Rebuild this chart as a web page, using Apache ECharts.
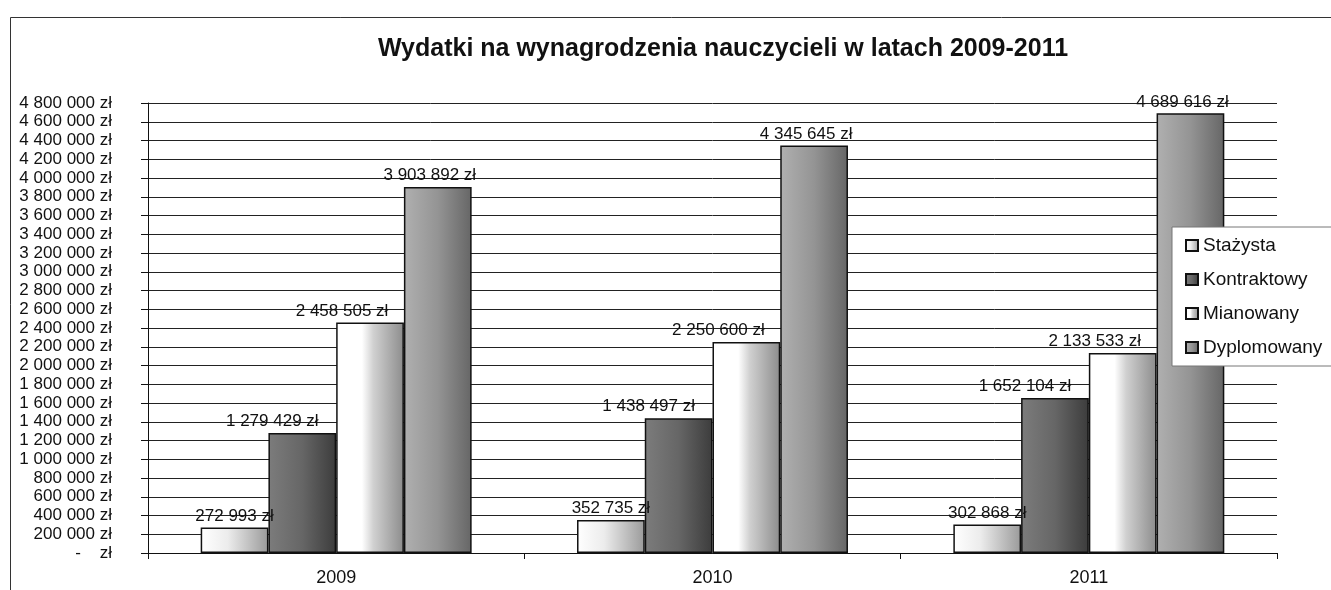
<!DOCTYPE html>
<html>
<head>
<meta charset="utf-8">
<script src="https://cdn.jsdelivr.net/npm/echarts@6/dist/echarts.min.js"></script>
<style>
  html, body { margin: 0; padding: 0; background: #fff; }
  #chart { width: 1331px; height: 590px; }
</style>
</head>
<body>
<div id="chart"></div>
<script>
// dane
const years = ['2009', '2010', '2011'];
const stazysta = [272993, 352735, 302868];
const kontraktowy = [1279429, 1438497, 1652104];
const mianowany = [2458505, 2250600, 2133533];
const dyplomowany = [3903892, 4345645, 4689616];

const font = "'Liberation Sans', Arial, sans-serif";

function zl(v) {
    if (v === 0) return '-    zł';
    return String(v).replace(/\B(?=(\d{3})+(?!\d))/g, ' ') + ' zł';
}

function grad(stops) {
    return new echarts.graphic.LinearGradient(0, 0, 1, 0,
        stops.map(s => ({ offset: s[0], color: s[1] })));
}

// etykiety w oryginale są przesunięte nieco w lewo
function serie(name, data, color, dx) {
    return {
        name: name,
        type: 'bar',
        data: data,
        barGap: '0%',
        barCategoryGap: '28%',
        itemStyle: { color: color, borderColor: '#111', borderWidth: 1.5 },
        label: {
            show: true,
            position: 'top',
            distance: 3,
            offset: [dx, 0],
            formatter: p => zl(p.value),
            color: '#111',
            fontFamily: font,
            fontSize: 17
        },
        emphasis: { disabled: true }
    };
}

const myChart = echarts.init(document.getElementById('chart'), null, { renderer: 'canvas' });

const option = {
    animation: false,
    backgroundColor: '#fff',
    title: {
        text: 'Wydatki na wynagrodzenia nauczycieli w latach 2009-2011',
        left: 718,
        textAlign: 'center',
        top: 32,
        textStyle: { fontFamily: font, fontSize: 25, fontWeight: 'bold', color: '#111' }
    },
    grid: { left: 148, right: 54, top: 103, bottom: 37, containLabel: false },
    legend: {
        orient: 'vertical',
        left: 1172,
        top: 227,
        padding: [9, 40, 9, 13],
        itemGap: 15,
        itemWidth: 12,
        itemHeight: 11,
        icon: 'rect',
        backgroundColor: '#fff',
        borderColor: '#777',
        borderWidth: 1,
        borderRadius: 0,
        textStyle: { fontFamily: font, fontSize: 19, color: '#111' },
        data: ['Stażysta', 'Kontraktowy', 'Mianowany', 'Dyplomowany']
    },
    xAxis: {
        type: 'category',
        data: years,
        axisLine: { lineStyle: { color: '#111' } },
        axisTick: { show: true, length: 6, lineStyle: { color: '#111' } },
        axisLabel: { fontFamily: font, fontSize: 18, color: '#111', margin: 16 }
    },
    yAxis: {
        type: 'value',
        min: 0,
        max: 4800000,
        interval: 200000,
        axisLine: { show: true, lineStyle: { color: '#111' } },
        axisTick: { show: true, length: 7, lineStyle: { color: '#111' } },
        axisLabel: {
            formatter: zl,
            fontFamily: font,
            fontSize: 17,
            color: '#111',
            margin: 36
        },
        splitLine: { lineStyle: { color: '#222', width: 1 } }
    },
    series: [
        serie('Stażysta', stazysta, grad([[0, '#ffffff'], [0.4, '#ececec'], [1, '#9a9a9a']]), 0),
        serie('Kontraktowy', kontraktowy, grad([[0, '#7c7c7c'], [0.5, '#666666'], [1, '#3c3c3c']]), -30),
        serie('Mianowany', mianowany, grad([[0, '#ffffff'], [0.38, '#ffffff'], [0.55, '#d0d0d0'], [1, '#8c8c8c']]), -28),
        serie('Dyplomowany', dyplomowany, grad([[0, '#b0b0b0'], [0.5, '#949494'], [1, '#666666']]), -8)
    ],
    graphic: [
        {
            type: 'rect',
            shape: { x: 10.5, y: 17.5, width: 1400, height: 700 },
            style: { fill: 'none', stroke: '#333', lineWidth: 1 },
            silent: true,
            z: -1
        }
    ]
};

myChart.setOption(option, true);
</script>
</body>
</html>
